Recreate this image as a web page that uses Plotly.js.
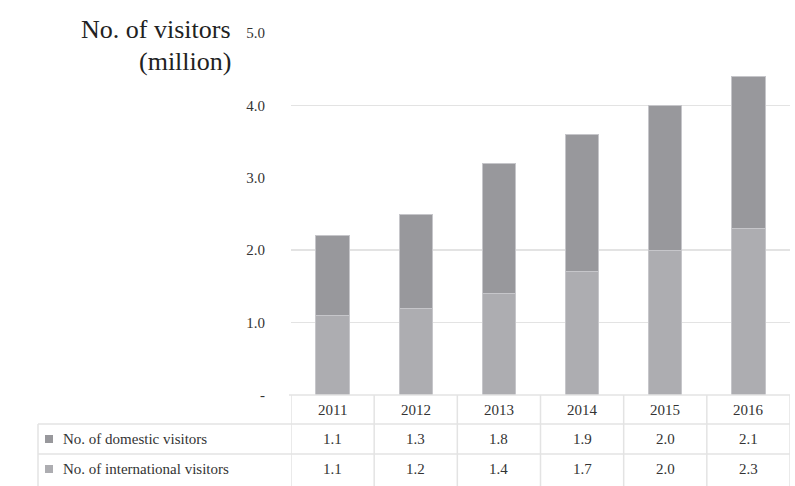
<!DOCTYPE html>
<html>
<head>
<meta charset="utf-8">
<script src="https://cdn.plot.ly/plotly-3.0.1.min.js"></script>
<style>html,body{margin:0;padding:0;background:#fff}#chart{width:795px;height:486px}</style>
</head>
<body>
<div id="chart"></div>
<script>
const years = ['2011', '2012', '2013', '2014', '2015', '2016'];
const domestic = [1.1, 1.3, 1.8, 1.9, 2.0, 2.1];
const international = [1.1, 1.2, 1.4, 1.7, 2.0, 2.3];
const seriesNames = ['No. of domestic visitors', 'No. of international visitors'];
const yTickVals = [0, 1, 2, 3, 4, 5];
const yTickText = ['-', '1.0', '2.0', '3.0', '4.0', '5.0'];
const gridVals = [1, 2, 4, 5];   // the reference shows no gridline at 3.0

const colDom = '#98989c';
const colInt = '#adadb1';
const edgeCol = '#c6c6ca';
const lineCol = '#e3e3e3';
const FONT = 'Liberation Serif';

// pixel -> paper helpers (plot area: x 291..790, y 33..395)
const L = 291, R = 790, T = 33, B = 395;
const px = v => (v - L) / (R - L);
const py = v => (B - v) / (B - T);

const traces = [
  {type: 'bar', x: years, y: international, name: seriesNames[1], marker: {color: colInt, line: {color: edgeCol, width: 1}}, hoverinfo: 'y'},
  {type: 'bar', x: years, y: domestic, name: seriesNames[0], marker: {color: colDom, line: {color: edgeCol, width: 1}}, hoverinfo: 'y'},
  // invisible helper trace on the overlay axis that carries the gridlines
  {type: 'scatter', x: [years[0]], y: [0], yaxis: 'y2', mode: 'markers', marker: {opacity: 0}, hoverinfo: 'skip', showlegend: false}
];

const shapes = [];
const annotations = [];

// table horizontal lines
shapes.push({type: 'line', xref: 'paper', yref: 'paper', x0: px(289), x1: px(790), y0: py(395), y1: py(395), line: {color: lineCol, width: 1.5}});
shapes.push({type: 'line', xref: 'paper', yref: 'paper', x0: px(38), x1: px(790), y0: py(424), y1: py(424), line: {color: lineCol, width: 1.5}});
shapes.push({type: 'line', xref: 'paper', yref: 'paper', x0: px(38), x1: px(790), y0: py(454), y1: py(454), line: {color: lineCol, width: 1.5}});
// left vertical of legend column
shapes.push({type: 'line', xref: 'paper', yref: 'paper', x0: px(38), x1: px(38), y0: py(424), y1: py(490), line: {color: lineCol, width: 1.5}});
// vertical lines between categories (category index +/- 0.5)
for (let k = 0; k <= years.length; k++) {
  shapes.push({type: 'line', xref: 'x', yref: 'paper', x0: k - 0.5, x1: k - 0.5, y0: py(395), y1: py(490), line: {color: lineCol, width: 1.5}});
}

// table texts (x = category index)
years.forEach((yr, i) => {
  annotations.push({xref: 'x', yref: 'paper', x: i, y: py(410), text: yr, showarrow: false, yanchor: 'middle', font: {family: FONT, size: 15, color: '#333'}});
  annotations.push({xref: 'x', yref: 'paper', x: i, y: py(439), text: domestic[i].toFixed(1), showarrow: false, yanchor: 'middle', font: {family: FONT, size: 15, color: '#333'}});
  annotations.push({xref: 'x', yref: 'paper', x: i, y: py(469), text: international[i].toFixed(1), showarrow: false, yanchor: 'middle', font: {family: FONT, size: 15, color: '#333'}});
});

// legend rows
const legendRows = [[seriesNames[0], colDom, 439], [seriesNames[1], colInt, 469]];
legendRows.forEach(([name, col, yc]) => {
  shapes.push({type: 'rect', xref: 'paper', yref: 'paper', x0: px(45), x1: px(53), y0: py(yc - 4), y1: py(yc + 4), fillcolor: col, line: {width: 0}});
  annotations.push({xref: 'paper', yref: 'paper', x: px(61), y: py(yc), text: name, showarrow: false, xanchor: 'left', yanchor: 'middle', font: {family: FONT, size: 15, color: '#333'}});
});

// y-axis title (two lines)
annotations.push({xref: 'paper', yref: 'paper', x: px(233), y: py(30), text: 'No. of visitors', showarrow: false, xanchor: 'right', yanchor: 'middle', font: {family: FONT, size: 26, color: '#222'}});
annotations.push({xref: 'paper', yref: 'paper', x: px(233), y: py(61), text: '(million)', showarrow: false, xanchor: 'right', yanchor: 'middle', font: {family: FONT, size: 26, color: '#222'}});

const layout = {
  width: 795, height: 486,
  margin: {l: L, r: 795 - R, t: T, b: 486 - B, pad: 0},
  paper_bgcolor: '#fff', plot_bgcolor: '#fff',
  barmode: 'stack', bargap: 0.6,
  showlegend: false,
  xaxis: {type: 'category', range: [-0.5, years.length - 0.5], autorange: false, showticklabels: false, showgrid: false, zeroline: false, showline: false, ticks: '', fixedrange: true},
  yaxis: {range: [0, 5], autorange: false, tickvals: yTickVals, ticktext: yTickText, showgrid: false, zeroline: false, showline: false,
          ticks: 'outside', ticklen: 22, tickcolor: 'rgba(0,0,0,0)', tickfont: {family: FONT, size: 15, color: '#333'}, fixedrange: true},
  yaxis2: {overlaying: 'y', side: 'left', range: [0, 5], autorange: false, tickvals: gridVals, showticklabels: false, ticks: '',
           showgrid: true, gridcolor: lineCol, gridwidth: 1.5, zeroline: false, showline: false, fixedrange: true},
  shapes: shapes,
  annotations: annotations,
  font: {family: FONT}
};

Plotly.newPlot('chart', traces, layout, {displayModeBar: false, staticPlot: true});
</script>
</body>
</html>
